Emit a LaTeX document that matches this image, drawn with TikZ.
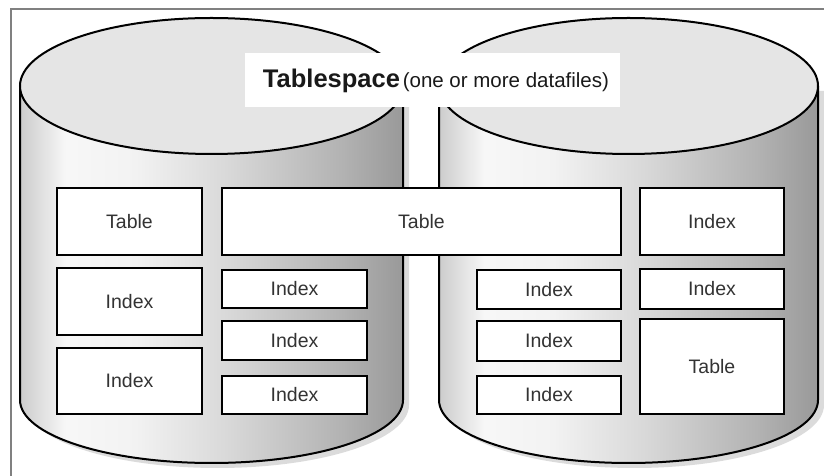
\documentclass[tikz,border=0pt]{standalone}
\usepackage{fontspec}
\setmainfont{Liberation Sans}

% cylinder body: light on the left, darker toward the right
\pgfdeclarehorizontalshading{cylbody}{100bp}{%
  color(0bp)=(black!20); color(25bp)=(black!20); color(31bp)=(black!3);
  color(40bp)=(black!5); color(52bp)=(black!15); color(67bp)=(black!30);
  color(75bp)=(black!40); color(100bp)=(black!40)}

\tikzset{
  frameline/.style={draw=black!50, line width=1.4pt},
  shadow/.style={fill=black!14},
  body/.style={shading=cylbody, draw=black, line width=2pt},
  lid/.style={fill=black!10, draw=black, line width=2pt},
  box/.style={draw=black, line width=2.8pt, fill=white, inner sep=0pt,
    text=black!80, font=\fontsize{19.5}{22}\selectfont},
  titletext/.style={inner sep=0pt, anchor=base, text=black!90}
}

\begin{document}
\begin{tikzpicture}[x=1pt, y=1pt]
\useasboundingbox (0,0) rectangle (824,476);

% outer frame (top and left edges)
\draw[frameline] (11,0) -- (11,467) -- (824,467);

% drop shadows of the two cylinders
\fill[shadow] (26,385) -- (26,71) arc[start angle=180, end angle=360, x radius=191.5, y radius=63] -- (409,385) -- cycle;
\fill[shadow] (445,385) -- (445,71) arc[start angle=180, end angle=360, x radius=189.5, y radius=63] -- (824,385) -- cycle;

% cylinder bodies
\path[body] (20,390) -- (20,76) arc[start angle=180, end angle=360, x radius=191.5, y radius=63] -- (403,390);
\path[body] (439,390) -- (439,76) arc[start angle=180, end angle=360, x radius=189.5, y radius=63] -- (818,390);

% cylinder tops
\path[lid] (211.5,390) ellipse[x radius=191.5, y radius=68];
\path[lid] (628.5,390) ellipse[x radius=189.5, y radius=68];

% segments of the left datafile
\node[box, minimum width=145pt, minimum height=67pt] (l1) at (129.5,254.5) {Table};
\node[box, minimum width=145pt, minimum height=67pt] (l2) at (129.5,174.5) {Index};
\node[box, minimum width=145pt, minimum height=66pt] (l3) at (129.5,95) {Index};

% table spanning both datafiles
\node[box, minimum width=399pt, minimum height=67pt] (wide) at (421.5,254.5) {Table};

\node[box, minimum width=145pt, minimum height=38pt] (m1) at (294.5,187) {Index};
\node[box, minimum width=145pt, minimum height=39pt] (m2) at (294.5,135.5) {Index};
\node[box, minimum width=145pt, minimum height=38pt] (m3) at (294.5,81) {Index};

% segments of the right datafile
\node[box, minimum width=144pt, minimum height=39pt] (r1) at (549,186.5) {Index};
\node[box, minimum width=144pt, minimum height=40pt] (r2) at (549,135) {Index};
\node[box, minimum width=144pt, minimum height=38pt] (r3) at (549,81) {Index};

\node[box, minimum width=144pt, minimum height=67pt] (s0) at (712,254.5) {Index};
\node[box, minimum width=144pt, minimum height=40pt] (s1) at (712,187) {Index};
\node[box, minimum width=144pt, minimum height=95pt] (s2) at (712,109.5) {Table};

% title label on its white backing
\fill[white] (245,369) rectangle (620,423);
\node[titletext] (title) at (436,388)
  {{\fontsize{25.5}{28}\selectfont\bfseries Tablespace} {\fontsize{20.5}{24}\selectfont (one or more datafiles)}};
\end{tikzpicture}
\end{document}
